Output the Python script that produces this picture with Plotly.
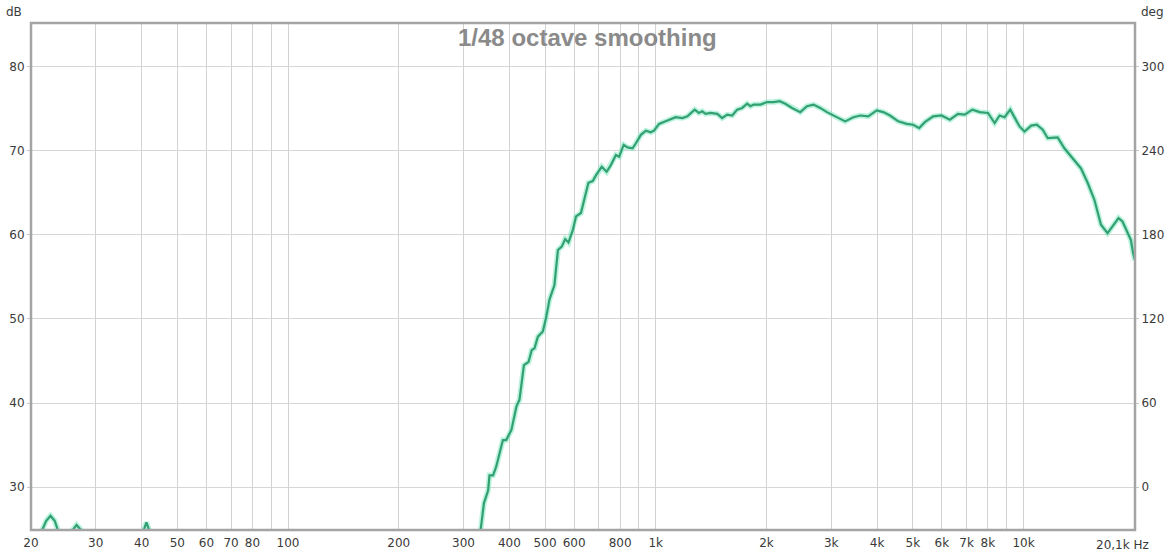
import plotly.graph_objects as go
import math

# ---- data (frequency in Hz, level in dB) ----
freq_hz = [
    20, 21.0, 21.45, 22.0, 22.6, 23.2, 23.66, 24.2, 24.8, 25.5, 25.98, 26.6, 27.36, 28.0,
    30, 35, 39.5, 40.6, 41.2, 41.9, 43, 50, 70, 100, 150, 200, 250, 300, 320,
    334, 341, 350, 353, 361, 368, 384, 392, 405, 418, 426, 438, 451, 460, 468, 478,
    493, 503, 514, 530, 542, 555, 567, 579, 595, 607, 626, 639, 656, 674, 688, 713,
    735, 755, 779, 795, 818, 838, 865, 883, 911, 940, 969, 989, 1021, 1076, 1133,
    1182, 1219, 1276, 1310, 1338, 1366, 1409, 1470, 1516, 1564, 1614, 1665, 1718,
    1772, 1809, 1847, 1926, 2008, 2092, 2172, 2251, 2347, 2472, 2577, 2685, 2800,
    2920, 3075, 3273, 3447, 3595, 3784, 3988, 4156, 4335, 4564, 4810, 5012, 5204,
    5391, 5678, 5984, 6304, 6637, 6920, 7261, 7600, 8006, 8346, 8610, 8882, 9205,
    9454, 9754, 10063, 10493, 10865, 11280, 11638, 12388, 12916, 13469, 14337,
    14940, 15578, 16243, 16927, 17461, 18128, 18585, 19175, 19586, 19868, 20100,
]
spl_db = [
    21.5, 23.0, 24.9, 26.0, 26.6, 26.0, 24.9, 23.0, 22.5, 23.5, 24.9, 25.5, 24.9, 23.5,
    22.0, 21.5, 23.5, 24.9, 25.8, 24.9, 23.0, 20.0, 18.0, 16.0, 15.0, 14.5, 17.0, 21.0, 23.5,
    24.9, 28.1, 29.6, 31.4, 31.4, 32.4, 35.6, 35.6, 36.8, 39.6, 40.4, 44.5, 44.9, 46.3, 46.5, 47.9,
    48.5, 50.1, 52.3, 54.0, 58.2, 58.6, 59.5, 59.1, 60.6, 62.2, 62.6, 64.2, 66.2, 66.4, 67.1, 68.1,
    67.5, 68.3, 69.5, 69.3, 70.7, 70.4, 70.3, 70.9, 71.9, 72.4, 72.2, 72.4, 73.2, 73.6, 74.0,
    73.9, 74.1, 74.9, 74.5, 74.7, 74.4, 74.5, 74.4, 73.9, 74.3, 74.2, 74.9, 75.1,
    75.6, 75.3, 75.5, 75.5, 75.8, 75.8, 75.9, 75.6, 75.1, 74.6, 75.3, 75.5, 75.1,
    74.6, 74.1, 73.5, 74.0, 74.2, 74.1, 74.8, 74.6, 74.2, 73.5, 73.2, 73.1, 72.7,
    73.4, 74.1, 74.2, 73.7, 74.4, 74.3, 74.9, 74.6, 74.5, 73.3, 74.2, 74.0, 74.9,
    73.9, 72.9, 72.3, 73.0, 73.1, 72.5, 71.5, 71.6, 70.3, 69.3, 67.9,
    66.2, 64.2, 61.2, 60.2, 61.0, 62.0, 61.6, 60.4, 59.4, 57.8, 57.0,
]

# ---- axes ----
x_grid_hz = [20, 30, 40, 50, 60, 70, 80, 90, 100, 200, 300, 400, 500, 600, 700, 800, 900,
             1000, 2000, 3000, 4000, 5000, 6000, 7000, 8000, 9000, 10000, 20000]
x_tick_text = ["20", "30", "40", "50", "60", "70", "80", "", "100", "200", "300", "400", "500",
               "600", "", "800", "", "1k", "2k", "3k", "4k", "5k", "6k", "7k", "8k", "", "10k", ""]
x_range_hz = [20, 20100]
db_ticks = [30, 40, 50, 60, 70, 80]
db_range = [24.9, 85.2]
deg_ticks = [0, 60, 120, 180, 240, 300]
deg_range = [-30.6, 331.2]

tick_font = dict(family="DejaVu Sans", size=12, color="#3a3a3a")

fig = go.Figure()
# soft halo under the curve
fig.add_trace(go.Scatter(x=freq_hz, y=spl_db, mode="lines",
                         line=dict(color="rgba(120,232,190,0.5)", width=5.5),
                         hoverinfo="skip", showlegend=False))
fig.add_trace(go.Scatter(x=freq_hz, y=spl_db, mode="lines",
                         line=dict(color="#33a072", width=2.2),
                         showlegend=False))
# empty trace to carry the right-hand degree axis
fig.add_trace(go.Scatter(x=[None], y=[None], yaxis="y2", showlegend=False,
                         hoverinfo="skip"))

fig.update_layout(
    width=1173, height=553,
    margin=dict(l=31, r=38, t=23, b=23, autoexpand=False),
    paper_bgcolor="white", plot_bgcolor="white",
    xaxis=dict(type="log", range=[math.log10(x_range_hz[0]), math.log10(x_range_hz[1])],
               tickvals=x_grid_hz, ticktext=x_tick_text, showgrid=True,
               gridcolor="#d2d2d2", gridwidth=1, zeroline=False, showline=False,
               ticks="", tickfont=tick_font, ticklabelstandoff=4, automargin=False),
    yaxis=dict(range=db_range, tickvals=db_ticks, showgrid=True, gridcolor="#d6d6d6",
               gridwidth=1, zeroline=False, showline=False, ticks="outside",
               ticklen=3, tickcolor="#c8c8c8", tickfont=tick_font, automargin=False),
    yaxis2=dict(range=deg_range, tickvals=deg_ticks, overlaying="y", side="right",
                showgrid=False, zeroline=False, showline=False, ticks="outside",
                ticklen=3, tickcolor="#c8c8c8", tickfont=tick_font, automargin=False),
    shapes=[dict(type="rect", xref="paper", yref="paper", x0=0, y0=0, x1=1, y1=1,
                 line=dict(color="#a4a4a4", width=2.5), layer="above")],
    annotations=[
        dict(text="1/48 octave smoothing", xref="paper", yref="paper", x=0.5045, y=0.972,
             xanchor="center", yanchor="middle", showarrow=False,
             font=dict(family="Liberation Sans", size=24, color="#8a8a8a", weight="bold")),
        dict(text="dB", xref="paper", yref="paper", x=-0.006, y=1.0, xanchor="right",
             yanchor="bottom", yshift=2, showarrow=False, font=tick_font),
        dict(text="deg", xref="paper", yref="paper", x=1.004, y=1.0, xanchor="left",
             yanchor="bottom", yshift=2, showarrow=False, font=tick_font),
        dict(text="20,1k Hz", xref="paper", yref="paper", x=0.9625, y=0, xanchor="left",
             yanchor="top", yshift=-6, showarrow=False, font=tick_font),
    ],
)

fig.write_html("out.html", config={"displayModeBar": False},
               post_script="document.body.style.margin='0';document.body.style.overflow='hidden';")
